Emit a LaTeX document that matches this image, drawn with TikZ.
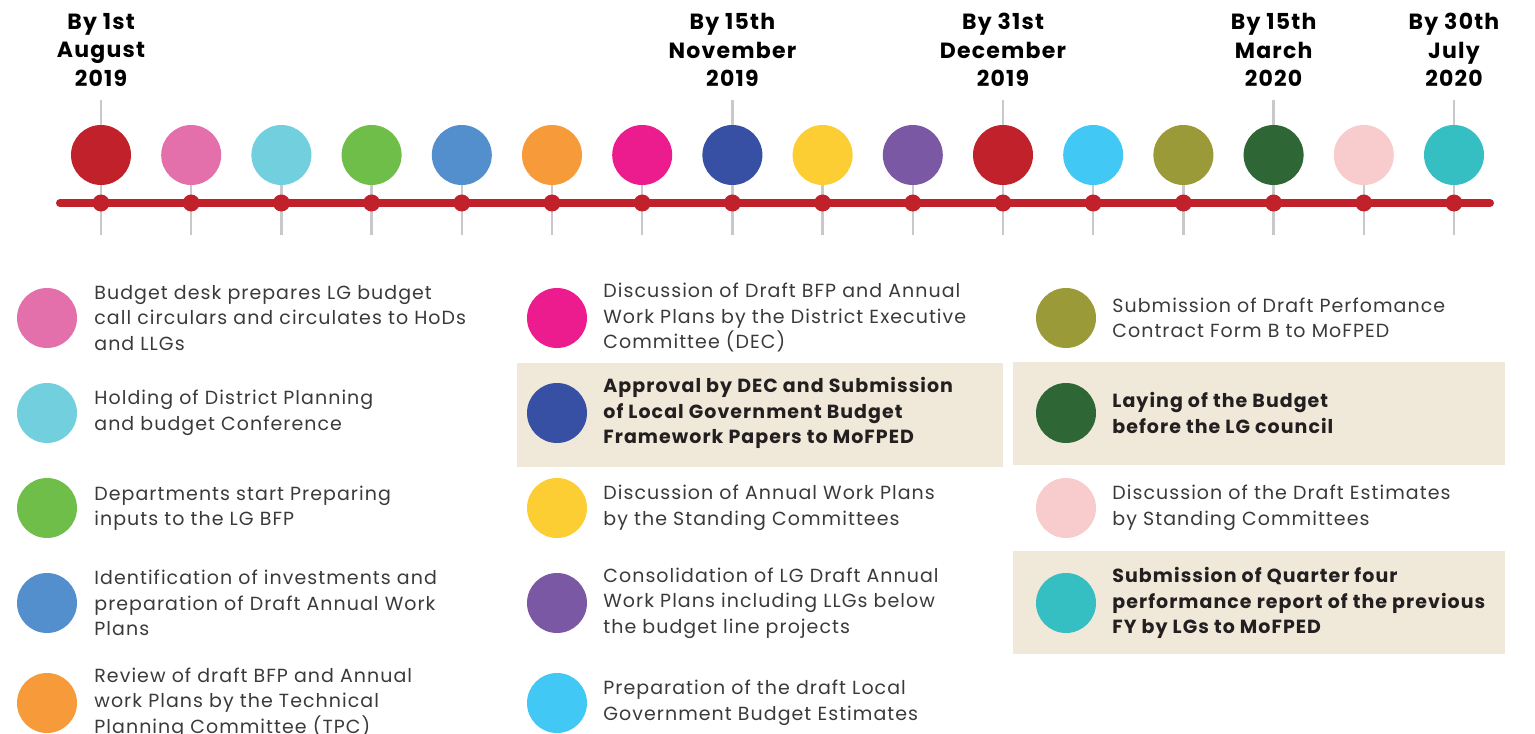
\documentclass[tikz,border=0pt]{standalone}
\usepackage{fontspec}
\setmainfont{Poppins}[LetterSpace=5.5]
\usetikzlibrary{positioning}
\definecolor{lineRed}{HTML}{C1212A}
\definecolor{tickGray}{HTML}{C9C9CB}
\definecolor{boxBeige}{HTML}{F0E8D8}
\definecolor{textGray}{HTML}{3A3A3A}
\definecolor{textDark}{HTML}{231F20}
\definecolor{evPink}{HTML}{E36FAB}
\definecolor{evCyan}{HTML}{72CFDE}
\definecolor{evGreen}{HTML}{6FBE4A}
\definecolor{evBlue}{HTML}{528FCC}
\definecolor{evOrange}{HTML}{F79A3A}
\definecolor{evMagenta}{HTML}{EC1C8E}
\definecolor{evNavy}{HTML}{3750A3}
\definecolor{evYellow}{HTML}{FDCE33}
\definecolor{evPurple}{HTML}{7B58A3}
\definecolor{evSky}{HTML}{42C8F4}
\definecolor{evOlive}{HTML}{9A9A38}
\definecolor{evForest}{HTML}{2F6636}
\definecolor{evRose}{HTML}{F8CBCD}
\definecolor{evTeal}{HTML}{35BFC2}
\tikzset{
  %event circle
  eventNode/.style = {circle, inner sep=0pt, minimum size=60},
  %dot on the red line
  lineDot/.style = {circle, fill=lineRed, inner sep=0pt, minimum size=17},
  %grey tick
  tickLine/.style = {draw=tickGray, line width=2.5},
  %red time line
  timeLine/.style = {draw=lineRed, line width=8, line cap=round},
  %date over a column
  dateLabel/.style = {align=center, inner sep=0pt,
    font=\bfseries\fontsize{22}{28.5}\selectfont},
  %legend text
  legendText/.style = {anchor=west, align=left, inner sep=0pt, text=textGray,
    font=\fontsize{19}{25.5}\selectfont},
  legendBold/.style = {legendText, text=textDark,
    font=\bfseries\fontsize{19}{25.5}\selectfont}
}

\begin{document}
\begin{tikzpicture}[x=1pt, y=-1pt]
\useasboundingbox (0,0) rectangle (1535,734);

% highlighted rows
\fill[boxBeige] (517,363) rectangle (1003,467);
\fill[boxBeige] (1013,362) rectangle (1505,465);
\fill[boxBeige] (1013,551) rectangle (1505,654);

% time line
\foreach \c/\top [count=\i] in {lineRed/100, evPink/155, evCyan/155, evGreen/155,
    evBlue/155, evOrange/155, evMagenta/155, evNavy/100, evYellow/155,
    evPurple/155, lineRed/100, evSky/155, evOlive/155, evForest/100,
    evRose/155, evTeal/100}{
  \coordinate (p\i) at ({101+90.2*(\i-1)},203);
  \draw[tickLine] (p\i |- 0,\top) -- (p\i |- 0,235);
  \node[eventNode, fill=\c] (c\i) at (p\i |- 0,155) {};
}
\coordinate (lineStart) at (60,203);
\coordinate (lineEnd) at (1490,203);
\draw[timeLine] (lineStart) -- (lineEnd);
\foreach \i in {1,...,16}
  \node[lineDot] (d\i) at (p\i) {};

% dates
\node[dateLabel] (date1) at (c1 |- 0,50) {By 1st\\August\\2019};
\node[dateLabel] (date8) at (c8 |- 0,50) {By 15th\\November\\2019};
\node[dateLabel] (date11) at (c11 |- 0,50) {By 31st\\December\\2019};
\node[dateLabel] (date14) at (c14 |- 0,50) {By 15th\\March\\2020};
\node[dateLabel] (date16) at (c16 |- 0,50) {By 30th\\July\\2020};

% first column
\node[eventNode, fill=evPink] (l2) at (47,318) {};
\node[legendText, right=17 of l2] (t2) {Budget desk prepares LG budget\\call circulars and circulates to HoDs\\and LLGs};
\node[eventNode, fill=evCyan] (l3) at (47,413) {};
\node[legendText, right=17 of l3] (t3) {Holding of District Planning\\and budget Conference};
\node[eventNode, fill=evGreen] (l4) at (47,508) {};
\node[legendText, right=17 of l4] (t4) {Departments start Preparing\\inputs to the LG BFP};
\node[eventNode, fill=evBlue] (l5) at (47,603) {};
\node[legendText, right=17 of l5] (t5) {Identification of investments and\\preparation of Draft Annual Work\\Plans};
\node[eventNode, fill=evOrange] (l6) at (47,703) {};
\node[legendText, right=17 of l6] (t6) {Review of draft BFP and Annual\\work Plans by the Technical\\Planning Committee (TPC)};

% second column
\node[eventNode, fill=evMagenta] (l7) at (557,318) {};
\node[legendText, right=16 of l7] (t7) {Discussion of Draft BFP and Annual\\Work Plans by the District Executive\\Committee (DEC)};
\node[eventNode, fill=evNavy] (l8) at (557,413) {};
\node[legendBold, right=16 of l8] (t8) {Approval by DEC and Submission\\of Local Government Budget\\Framework Papers to MoFPED};
\node[eventNode, fill=evYellow] (l9) at (557,508) {};
\node[legendText, right=16 of l9] (t9) {Discussion of Annual Work Plans\\by the Standing Committees};
\node[eventNode, fill=evPurple] (l10) at (557,603) {};
\node[legendText, right=16 of l10] (t10) {Consolidation of LG Draft Annual\\Work Plans including LLGs below\\the budget line projects};
\node[eventNode, fill=evSky] (l12) at (557,703) {};
\node[legendText, right=16 of l12] (t12) {Preparation of the draft Local\\Government Budget Estimates};

% third column
\node[eventNode, fill=evOlive] (l13) at (1066,318) {};
\node[legendText, right=16 of l13] (t13) {Submission of Draft Perfomance\\Contract Form B to MoFPED};
\node[eventNode, fill=evForest] (l14) at (1066,413) {};
\node[legendBold, right=16 of l14] (t14) {Laying of the Budget\\before the LG council};
\node[eventNode, fill=evRose] (l15) at (1066,508) {};
\node[legendText, right=16 of l15] (t15) {Discussion of the Draft Estimates\\by Standing Committees};
\node[eventNode, fill=evTeal] (l16) at (1066,603) {};
\node[legendBold, right=16 of l16] (t16) {Submission of Quarter four\\performance report of the previous\\FY by LGs to MoFPED};
\end{tikzpicture}
\end{document}
